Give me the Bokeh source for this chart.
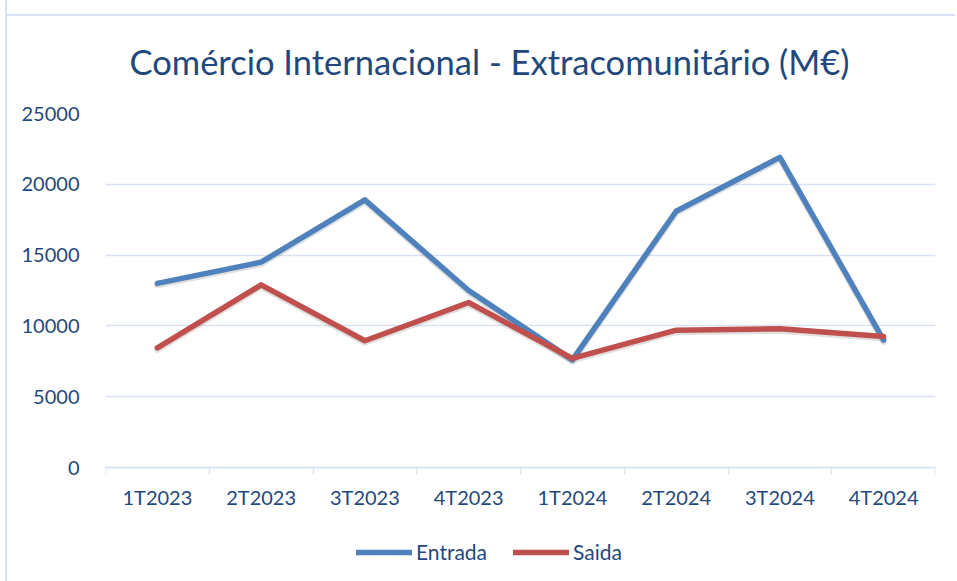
from bokeh.plotting import figure
from bokeh.models import (Range1d, FixedTicker, Legend, LegendItem, Title, LinearAxis)
from bokeh.embed import file_html
from bokeh.resources import INLINE

categories = ["1T2023", "2T2023", "3T2023", "4T2023", "1T2024", "2T2024", "3T2024", "4T2024"]
entrada = [13000, 14500, 18900, 12500, 7600, 18100, 21900, 9000]
saida = [8450, 12900, 8950, 11650, 7700, 9700, 9800, 9250]
y_ticks = [0, 5000, 10000, 15000, 20000, 25000]

TEXT = "#1F497D"
GRID = "#D9E2F3"
BLUE = "#4F81BD"
RED = "#C0504D"
FONT = "Lato"

xs = [i + 0.5 for i in range(len(categories))]

p = figure(width=950, height=581, x_range=Range1d(0, len(categories)), y_range=Range1d(-7627, 25000),
           output_backend="svg", toolbar_location=None, x_axis_location=None,
           min_border_left=98, min_border_right=22, min_border_top=113, min_border_bottom=6)
# chart-area border: left edge and a top line at 14 px
p.styles = {"margin-left": "5px", "border-left": "2px solid #D9E2F3",
            "background": "linear-gradient(#D9E2F3, #D9E2F3) 0px 14px / 100% 2px no-repeat, white"}
p.outline_line_color = None
p.background_fill_color = "white"
p.border_fill_alpha = 0

p.title = Title(text="Comércio Internacional - Extracomunitário (M€)", align="left",
                text_font=FONT, text_font_size="34.5px", text_font_style="normal",
                text_color=TEXT, offset=24, standoff=63)

# grid
p.xgrid.grid_line_color = None
p.ygrid.grid_line_color = GRID
p.ygrid.grid_line_width = 1.5
p.yaxis.ticker = FixedTicker(ticks=y_ticks)

# y axis
p.yaxis.axis_line_color = None
p.yaxis.major_tick_line_color = None
p.yaxis.minor_tick_line_color = None
p.yaxis.major_label_text_font = FONT
p.yaxis.major_label_text_font_size = "20px"
p.yaxis.major_label_text_color = TEXT
p.yaxis.major_label_standoff = 20

# x axis, fixed at y = 0 inside the frame
xaxis = LinearAxis(fixed_location=0)
xaxis.ticker = FixedTicker(ticks=xs, minor_ticks=list(range(len(categories) + 1)))
xaxis.major_label_overrides = {x: c for x, c in zip(xs, categories)}
xaxis.axis_line_color = GRID
xaxis.axis_line_width = 1.5
xaxis.major_tick_line_color = None
xaxis.minor_tick_line_color = GRID
xaxis.minor_tick_line_width = 1.5
xaxis.minor_tick_in = 0
xaxis.minor_tick_out = 7
xaxis.major_label_text_font = FONT
xaxis.major_label_text_font_size = "20px"
xaxis.major_label_text_color = TEXT
xaxis.major_label_standoff = 10
p.add_layout(xaxis, "below")

# soft drop shadow (about 2 px below each line)
shadow_shift = 140
p.line(xs, [v - shadow_shift for v in entrada], line_color="black", line_alpha=0.12,
       line_width=6, line_join="round", line_cap="round")
p.line(xs, [v - shadow_shift for v in saida], line_color="black", line_alpha=0.12,
       line_width=6, line_join="round", line_cap="round")

r1 = p.line(xs, entrada, line_color=BLUE, line_width=5.5, line_join="round", line_cap="round")
r2 = p.line(xs, saida, line_color=RED, line_width=5.5, line_join="round", line_cap="round")

legend = Legend(items=[LegendItem(label="Entrada", renderers=[r1]),
                       LegendItem(label="Saida", renderers=[r2])],
                orientation="horizontal", location=(251, 11),
                glyph_width=56, glyph_height=20, label_standoff=4, spacing=26,
                padding=0, margin=0, border_line_color=None, background_fill_alpha=0,
                label_text_font=FONT, label_text_font_size="21px", label_text_color=TEXT)
p.add_layout(legend, "center")

open("out.html", "w").write(file_html(p, INLINE))
